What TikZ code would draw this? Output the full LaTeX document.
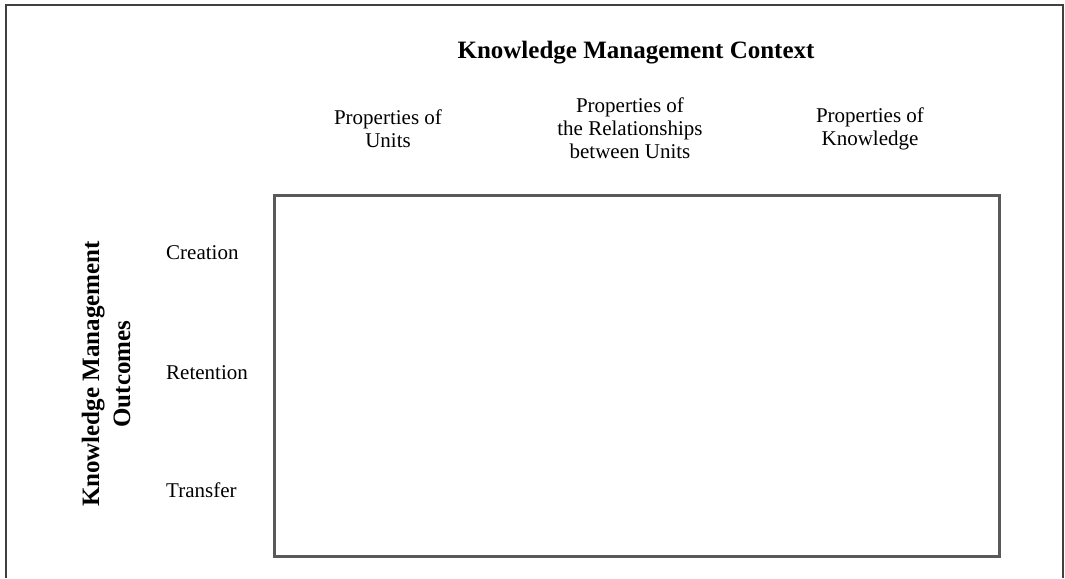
\documentclass[tikz,border=0pt]{standalone}
\usepackage{fontspec}
\setmainfont{Liberation Serif}
\begin{document}
\begin{tikzpicture}[x=1pt,y=-1pt,
  lbl/.style={inner sep=0pt, align=center, font=\fontsize{21}{23}\selectfont},
  ttl/.style={inner sep=0pt, align=center, font=\fontsize{25}{31}\selectfont\bfseries},
  frameline/.style={draw=black!75, line width=1.3pt},
  gridbox/.style={draw=black!65, line width=2.6pt}]
\useasboundingbox (0,0) rectangle (1065,578);
% outer frame (open at bottom)
\coordinate (fbl) at (6,578);
\coordinate (ftl) at (6,5);
\coordinate (ftr) at (1063,5);
\coordinate (fbr) at (1063,578);
\draw[frameline] (fbl) -- (ftl) -- (ftr) -- (fbr);
% inner matrix box
\node[gridbox, minimum width=725pt, minimum height=361pt, inner sep=0pt, anchor=north west] (box) at (273,194) {};
% title
\node[ttl] (title) at (636,53) {Knowledge Management Context};
% column headers
\node[lbl] (c1) at (388,129) {Properties of\\Units};
\node[lbl] (c2) at (630,128) {Properties of\\the Relationships\\between Units};
\node[lbl] (c3) at (870,129) {Properties of\\Knowledge};
% row labels
\node[lbl, anchor=west] (r1) at (166,253) {Creation};
\node[lbl, anchor=west] (r2) at (166,373) {Retention};
\node[lbl, anchor=west] (r3) at (166,490) {Transfer};
% vertical label
\node[ttl, rotate=90] (side) at (106,374) {Knowledge Management\\Outcomes};
\end{tikzpicture}
\end{document}
